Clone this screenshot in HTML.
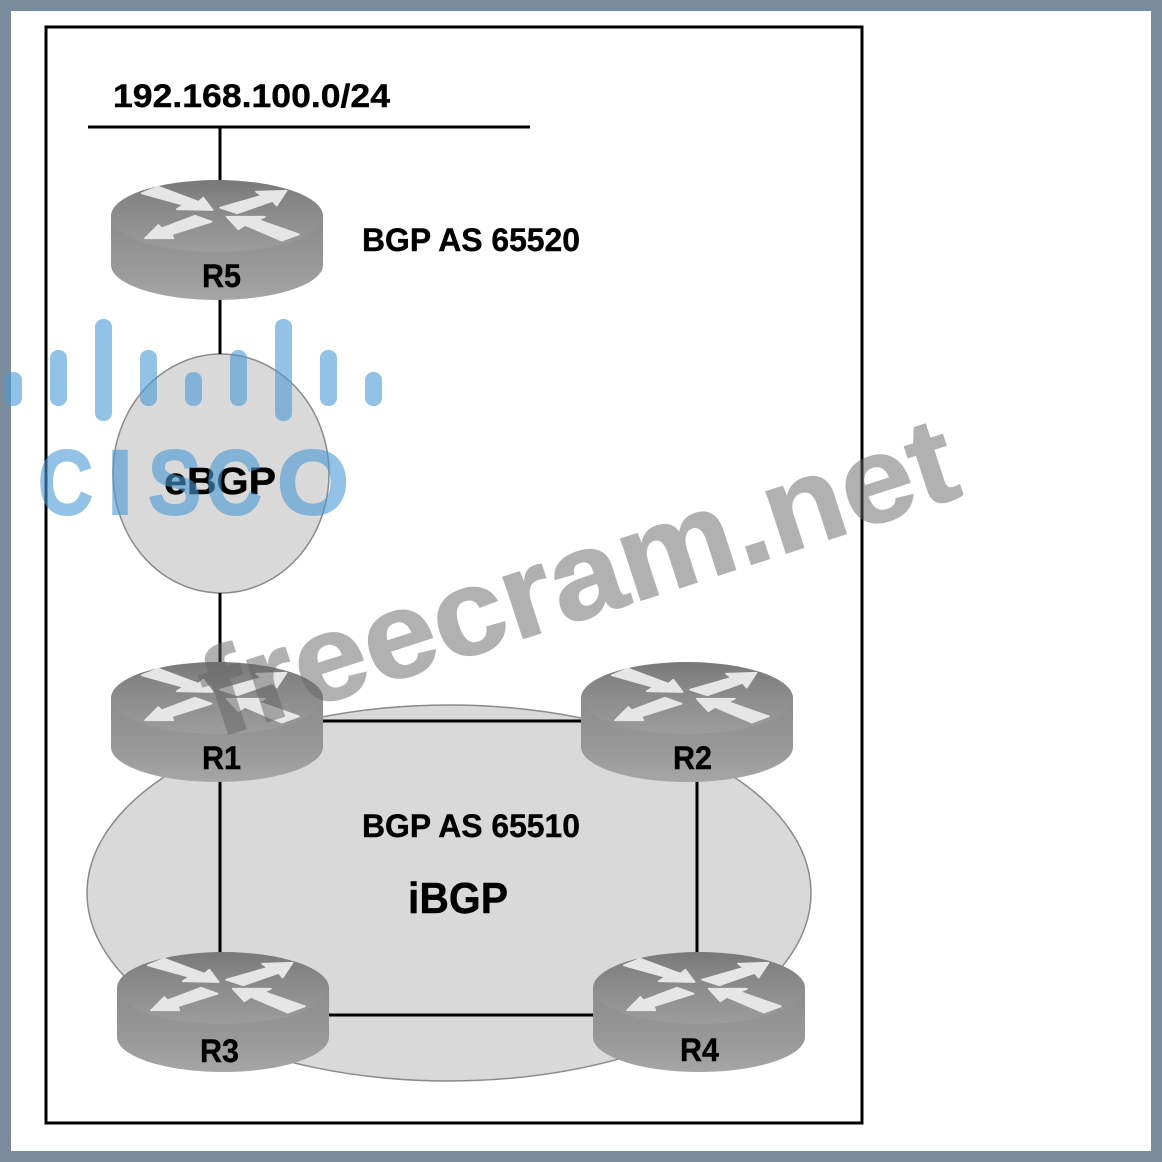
<!DOCTYPE html>
<html>
<head>
<meta charset="utf-8">
<style>
html,body{margin:0;padding:0;background:#fff}
svg{display:block}
text{font-family:"Liberation Sans",sans-serif;font-weight:bold}
</style>
</head>
<body>
<svg width="1162" height="1162" viewBox="0 0 1162 1162" xmlns="http://www.w3.org/2000/svg">
<defs>
<linearGradient id="top" x1="0" y1="0" x2="0" y2="1">
<stop offset="0" stop-color="#787878"/><stop offset=".3" stop-color="#868686"/><stop offset="1" stop-color="#9c9c9c"/>
</linearGradient>
<linearGradient id="side" x1="0" y1="0" x2="0" y2="1">
<stop offset="0" stop-color="#8c8c8c"/><stop offset=".6" stop-color="#989898"/><stop offset="1" stop-color="#a6a6a6"/>
</linearGradient>
<g id="router">
<path d="M21 56 V105 C21 124 68 140 127 140 S233 124 233 105 V56 Z" fill="url(#side)"/>
<ellipse cx="127" cy="56" rx="106" ry="36" fill="url(#top)"/>
<g fill="#e6e6e6" stroke="#e6e6e6" stroke-width="5" stroke-linejoin="round" transform="translate(40,15) scale(.3333)">
<polygon points="35,55 85,35 205,80 220,68 248,105 140,103 160,90"/>
<polygon points="270,98 395,62 378,50 470,47 440,92 428,78 322,115"/>
<polygon points="45,190 85,150 95,160 195,122 245,140 125,178 130,190"/>
<polygon points="290,125 405,125 385,135 507,178 455,197 345,150 325,163"/>
</g>
</g>
</defs>

<rect x="5.5" y="5.5" width="1151" height="1151" fill="#fff" stroke="#7a8b9c" stroke-width="11"/>
<rect x="46" y="27" width="816" height="1096" fill="#fff" stroke="#000" stroke-width="3"/>

<ellipse cx="449" cy="893" rx="362" ry="188" fill="#d9d9d9" stroke="#8a8a8a" stroke-width="1.5"/>
<ellipse cx="221" cy="473.5" rx="108" ry="119.5" fill="#d9d9d9" stroke="#8a8a8a" stroke-width="1.5"/>

<g stroke="#000" stroke-width="3" fill="none">
<line x1="88" y1="127" x2="530" y2="127"/>
<line x1="220" y1="127" x2="220" y2="185"/>
<line x1="220" y1="295" x2="220" y2="354"/>
<line x1="220" y1="593" x2="220" y2="670"/>
<line x1="220" y1="775" x2="220" y2="960"/>
<line x1="697" y1="775" x2="697" y2="960"/>
<line x1="315" y1="721" x2="590" y2="721"/>
<line x1="320" y1="1015" x2="600" y2="1015"/>
</g>

<use href="#router" x="90" y="160"/>
<use href="#router" x="90" y="642"/>
<use href="#router" x="560" y="642"/>
<use href="#router" x="96" y="932"/>
<use href="#router" x="572" y="932"/>

<g fill="#000" stroke="#000" stroke-width=".4">
<text x="113" y="107" font-size="32" textLength="277" lengthAdjust="spacingAndGlyphs">192.168.100.0/24</text>
<text x="362" y="251" font-size="32" textLength="218" lengthAdjust="spacingAndGlyphs">BGP AS 65520</text>
<text x="362" y="837" font-size="32" textLength="218" lengthAdjust="spacingAndGlyphs">BGP AS 65510</text>
<text x="408" y="913" font-size="44" textLength="100" lengthAdjust="spacingAndGlyphs">iBGP</text>
<text x="164" y="494" font-size="38" textLength="112" lengthAdjust="spacingAndGlyphs">eBGP</text>
<text x="202" y="287" font-size="32" textLength="39" lengthAdjust="spacingAndGlyphs">R5</text>
<text x="202" y="769" font-size="32" textLength="39" lengthAdjust="spacingAndGlyphs">R1</text>
<text x="673" y="769" font-size="32" textLength="39" lengthAdjust="spacingAndGlyphs">R2</text>
<text x="200" y="1062" font-size="32" textLength="39" lengthAdjust="spacingAndGlyphs">R3</text>
<text x="680" y="1061" font-size="32" textLength="39" lengthAdjust="spacingAndGlyphs">R4</text>
</g>

<g fill="#4a9ad6" stroke="#4a9ad6" stroke-width="0" opacity=".6">
<rect x="5" y="372" width="17" height="34" rx="8"/>
<rect x="50" y="350" width="17" height="56" rx="8"/>
<rect x="95" y="319" width="17" height="102" rx="8"/>
<rect x="140" y="350" width="17" height="56" rx="8"/>
<rect x="185" y="372" width="17" height="34" rx="8"/>
<rect x="230" y="350" width="17" height="56" rx="8"/>
<rect x="275" y="319" width="17" height="102" rx="8"/>
<rect x="320" y="350" width="17" height="56" rx="8"/>
<rect x="365" y="372" width="17" height="34" rx="8"/>
<g stroke-width="2">
<text x="38" y="514" font-size="92" textLength="55" lengthAdjust="spacingAndGlyphs">C</text>
<text x="107" y="514" font-size="92" textLength="26" lengthAdjust="spacingAndGlyphs">I</text>
<text x="148" y="514" font-size="92" textLength="53" lengthAdjust="spacingAndGlyphs">S</text>
<text x="206" y="514" font-size="92" textLength="56" lengthAdjust="spacingAndGlyphs">C</text>
<text x="277" y="514" font-size="92" textLength="72" lengthAdjust="spacingAndGlyphs">O</text>
</g>
</g>

<text transform="translate(217,738) rotate(-18)" font-size="122" fill="#666" stroke="#666" stroke-width="1.5" opacity=".5" textLength="786" lengthAdjust="spacingAndGlyphs">freecram.net</text>
</svg>
</body>
</html>
